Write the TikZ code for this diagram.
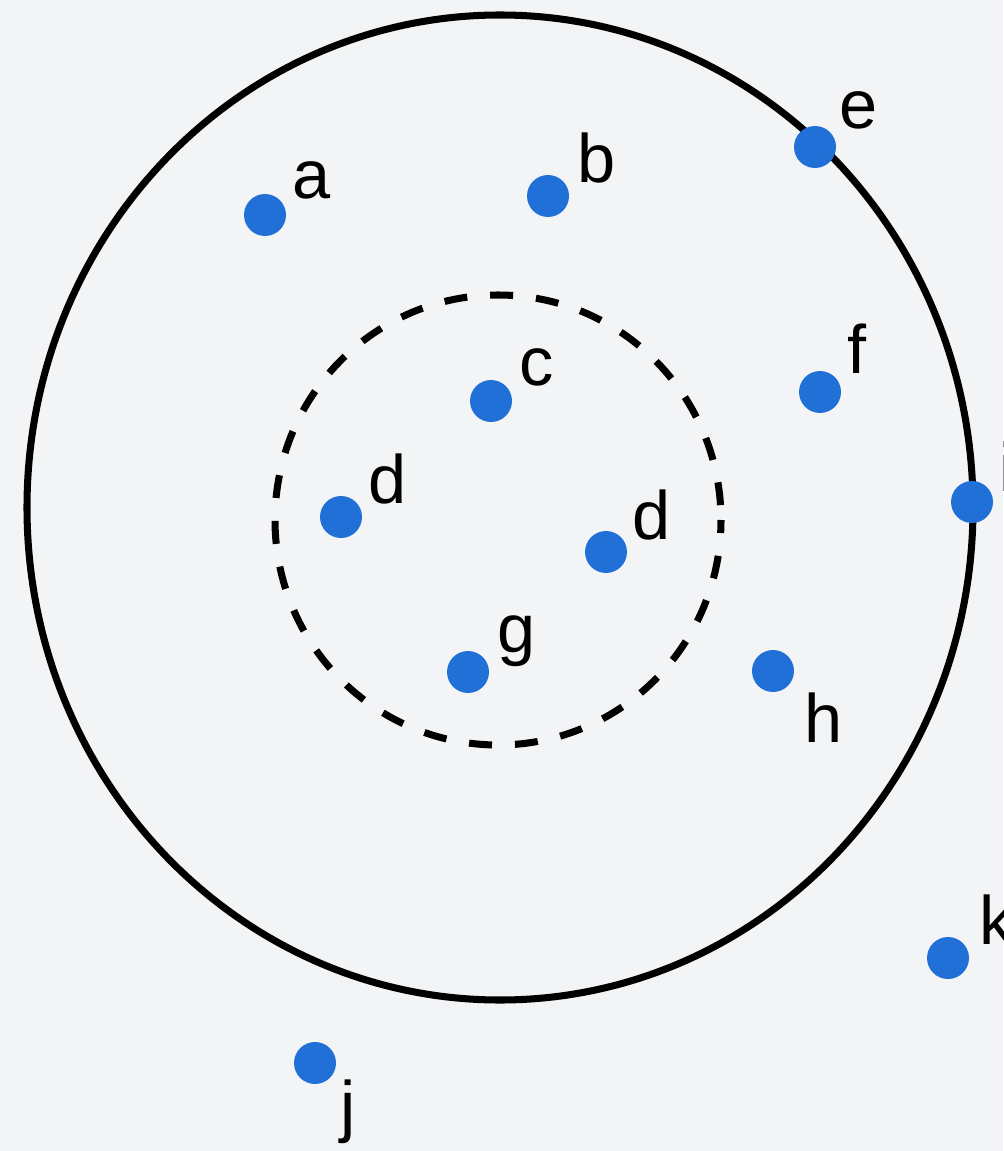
\documentclass[tikz,border=0pt]{standalone}
\usepackage{fontspec}
\setmainfont{Liberation Sans}
\definecolor{bg}{RGB}{243,244,246}
\definecolor{dotblue}{RGB}{32,112,216}

\begin{document}
\begin{tikzpicture}[x=0.02cm, y=-0.02cm,
    every node/.style={font=\fontsize{39}{46}\selectfont},
    pt/.style={circle, fill=dotblue, minimum size=0.84cm, inner sep=0pt},
    lab/.style={inner sep=0pt}]
  \fill[bg] (0,0) rectangle (1003,1151);
  \useasboundingbox (0,0) rectangle (1003,1151);
  % circles
  \draw[line width=4pt] (500,507.5) ellipse [x radius=473, y radius=492.5];
  \draw[line width=4pt, dash pattern=on 0.46cm off 0.46cm, dash phase=0.2cm] (498,520) ellipse [x radius=223, y radius=225];
  % points
  \node[pt] (a) at (265,215) {};   \node[lab] (la) at (312,180) {a};
  \node[pt] (b) at (548,196) {};   \node[lab] (lb) at (597,158) {b};
  \node[pt] (e) at (815,147) {};   \node[lab] (le) at (859,110) {e};
  \node[pt] (c) at (491,401) {};   \node[lab] (lc) at (537,367) {c};
  \node[pt] (f) at (820,392) {};   \node[lab] (lf) at (857,349) {f};
  \node[pt] (d1) at (341,517) {};  \node[lab] (ld1) at (388,479) {d};
  \node[pt] (i) at (972,502) {};   \node[lab] (li) at (1007,467) {i};
  \node[pt] (d2) at (606,552) {};  \node[lab] (ld2) at (652,515) {d};
  \node[pt] (g) at (468,672) {};   \node[lab] (lg) at (517,641) {g};
  \node[pt] (h) at (773,671) {};   \node[lab] (lh) at (824,718) {h};
  \node[pt] (k) at (948,958) {};   \node[lab] (lk) at (997,920) {k};
  \node[pt] (j) at (315,1063) {};  \node[lab] (lj) at (348,1112) {j};
\end{tikzpicture}
\end{document}
